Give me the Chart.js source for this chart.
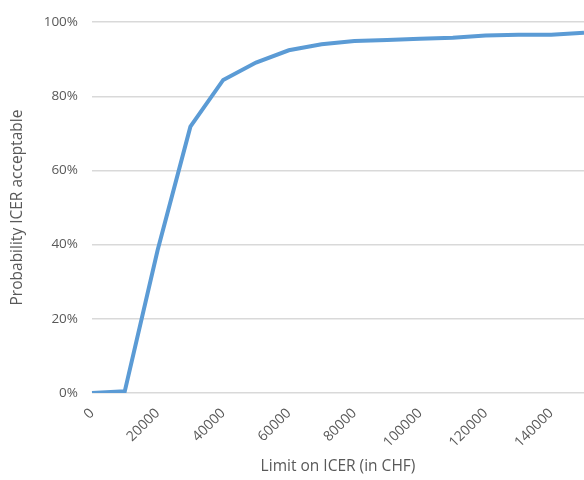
<!DOCTYPE html>
<html>
<head>
<meta charset="utf-8">
<script src="https://cdn.jsdelivr.net/npm/chart.js@4/dist/chart.umd.min.js"></script>
<style>
  body { margin: 0; background: #fff; }
  #wrap { width: 584px; height: 480px; }
</style>
</head>
<body>
<div id="wrap"><canvas id="ceac" width="584" height="480"></canvas></div>
<script>
// --- DATOS ---
const limites = [0, 10000, 20000, 30000, 40000, 50000, 60000, 70000, 80000,
                 90000, 100000, 110000, 120000, 130000, 140000, 150000];
const probabilidad = [0, 0.5, 38.5, 71.8, 84.4, 89.1, 92.4, 94.0, 94.9,
                      95.2, 95.5, 95.8, 96.4, 96.6, 96.6, 97.1];
const yTicks = [0, 20, 40, 60, 80, 100];

const gris = '#595959';
const fuente = '"Open Sans", sans-serif';

new Chart(document.getElementById('ceac'), {
    type: 'line',
    data: {
        labels: limites,
        datasets: [{
            label: 'Probability ICER acceptable',
            data: probabilidad,
            borderColor: '#5B9BD5',
            borderWidth: 4,
            pointRadius: 0,
            tension: 0,
            fill: false
        }]
    },
    options: {
        responsive: false,
        animation: false,
        layout: { padding: { top: 13, right: 0, left: 0, bottom: 0 } },
        plugins: {
            legend: { display: false },
            tooltip: { enabled: false }
        },
        scales: {
            x: {
                type: 'category',
                offset: false,
                grid: { display: false, drawTicks: false },
                border: { display: false },
                ticks: {
                    autoSkip: false,
                    minRotation: 45,
                    maxRotation: 45,
                    padding: 12,
                    color: gris,
                    font: { family: fuente, size: 14 },
                    // solo cada 20000
                    callback: function (value, index) {
                        return index % 2 === 0 && index < limites.length - 1 ? String(limites[index]) : null;
                    }
                },
                title: {
                    display: true,
                    text: 'Limit on ICER (in CHF)',
                    color: gris,
                    font: { family: fuente, size: 15.5 },
                    padding: { top: 6, bottom: 4 }
                },
                afterFit: function (scale) { scale.height = 87; }
            },
            y: {
                min: 0,
                max: 100,
                afterBuildTicks: function (scale) {
                    scale.ticks = yTicks.map(v => ({ value: v }));
                },
                grid: { color: '#D9D9D9', lineWidth: 1.5, drawTicks: false },
                border: { display: false },
                ticks: {
                    padding: 14,
                    color: gris,
                    font: { family: fuente, size: 13.5 },
                    callback: v => v + '%'
                },
                title: {
                    display: true,
                    text: 'Probability ICER acceptable',
                    color: gris,
                    font: { family: fuente, size: 15.5 },
                    padding: { top: 8, bottom: 6 }
                },
                afterFit: function (scale) { scale.width = 92; }
            }
        }
    }
});
</script>
</body>
</html>
